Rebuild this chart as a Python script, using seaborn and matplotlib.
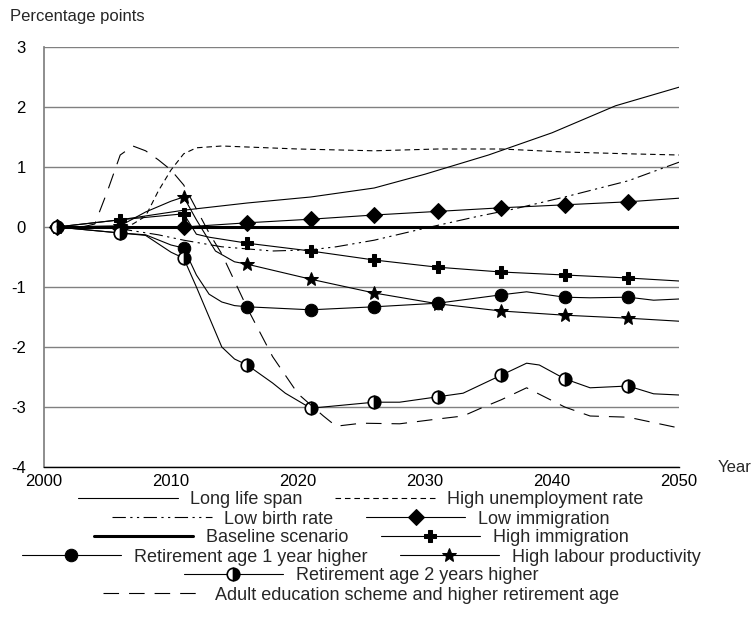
import matplotlib
matplotlib.use("Agg")
import matplotlib.pyplot as plt
import seaborn as sns

sns.set_theme(style="white")
plt.rcParams["font.family"] = ["Liberation Sans", "DejaVu Sans"]

# data (percentage points vs baseline)
marker_years = [2001, 2006, 2011, 2016, 2021, 2026, 2031, 2036, 2041, 2046]

long_years = [2001, 2006, 2011, 2016, 2021, 2026, 2030, 2035, 2040, 2045, 2050]
long_vals = [0.0, 0.12, 0.28, 0.4, 0.5, 0.65, 0.88, 1.2, 1.57, 2.02, 2.33]

unemp_years = [2001, 2006, 2007, 2008, 2009, 2010, 2011, 2012, 2014, 2020, 2026, 2031, 2036, 2041, 2046, 2050]
unemp_vals = [0.0, 0.0, 0.05, 0.18, 0.6, 0.95, 1.22, 1.32, 1.35, 1.3, 1.27, 1.3, 1.3, 1.25, 1.22, 1.2]

birth_years = [2001, 2006, 2009, 2011, 2014, 2018, 2021, 2023, 2026, 2030, 2034, 2037, 2041, 2046, 2050]
birth_vals = [0.0, -0.03, -0.13, -0.22, -0.33, -0.4, -0.38, -0.33, -0.22, -0.02, 0.17, 0.3, 0.5, 0.77, 1.08]

lowimm_years = [2001, 2006, 2011, 2016, 2021, 2026, 2031, 2036, 2041, 2046, 2050]
lowimm_vals = [0.0, -0.02, 0.0, 0.07, 0.13, 0.2, 0.26, 0.32, 0.37, 0.42, 0.48]

base_years = [2001, 2050]
base_vals = [0.0, 0.0]

highimm_years = [2001, 2006, 2011, 2012, 2013, 2016, 2021, 2026, 2031, 2036, 2041, 2046, 2050]
highimm_vals = [0.0, 0.12, 0.22, -0.12, -0.17, -0.27, -0.4, -0.55, -0.67, -0.75, -0.8, -0.85, -0.9]

ret1_years = [2001, 2006, 2008, 2010, 2011, 2012, 2013, 2014, 2015, 2016, 2021, 2026, 2031, 2036, 2038,
              2041, 2043, 2046, 2048, 2050]
ret1_vals = [0.0, -0.1, -0.13, -0.3, -0.35, -0.8, -1.12, -1.25, -1.31, -1.33, -1.38, -1.33, -1.27, -1.13,
             -1.08, -1.17, -1.18, -1.17, -1.22, -1.2]

prod_years = [2001, 2006, 2008, 2010, 2011, 2012, 2013.5, 2015, 2016, 2021, 2026, 2031, 2036, 2041, 2046, 2050]
prod_vals = [0.0, 0.02, 0.25, 0.43, 0.5, 0.12, -0.4, -0.58, -0.62, -0.87, -1.1, -1.28, -1.4, -1.47, -1.52, -1.57]

ret2_years = [2001, 2006, 2008, 2010, 2011, 2012, 2013, 2014, 2015, 2016, 2018, 2019, 2021, 2026, 2028,
              2031, 2033, 2036, 2038, 2039, 2041, 2043, 2046, 2048, 2050]
ret2_vals = [0.0, -0.1, -0.14, -0.42, -0.52, -1.0, -1.5, -2.0, -2.2, -2.3, -2.6, -2.77, -3.02, -2.92, -2.92,
             -2.83, -2.77, -2.47, -2.27, -2.3, -2.53, -2.68, -2.65, -2.78, -2.8]

adult_years = [2001, 2003, 2004, 2005, 2006, 2007, 2008, 2009, 2010, 2011, 2012, 2013, 2014, 2016, 2018,
               2020, 2022, 2023, 2025, 2028, 2031, 2033, 2034.4, 2036, 2038, 2041, 2043, 2046, 2050]
adult_vals = [0.0, 0.0, 0.05, 0.6, 1.2, 1.35, 1.27, 1.12, 0.95, 0.7, 0.3, -0.1, -0.45, -1.35, -2.16,
              -2.78, -3.15, -3.32, -3.27, -3.28, -3.2, -3.15, -3.02, -2.88, -2.68, -3.0, -3.15, -3.17, -3.35]

x_ticks = [2000, 2010, 2020, 2030, 2040, 2050]
y_ticks = [-4, -3, -2, -1, 0, 1, 2, 3]

fig = plt.figure(figsize=(7.52, 6.30), dpi=100)
ax = fig.add_axes([44 / 752, 1 - 467 / 630, 635 / 752, 420 / 630])


def every(years):
    return [i for i, y in enumerate(years) if y in marker_years]


def draw(years, vals, label, ls="-", lw=0.8, **kw):
    sns.lineplot(x=years, y=vals, ax=ax, color="black", linewidth=lw, linestyle=ls,
                 errorbar=None, sort=False, label=label, legend=False, **kw)
    return ax.lines[-1]


handles = []
handles.append(draw(long_years, long_vals, "Long life span"))
handles.append(draw(unemp_years, unemp_vals, "High unemployment rate", ls=(0, (5, 3.5))))
handles.append(draw(birth_years, birth_vals, "Low birth rate", ls=(0, (12, 4, 2, 4, 2, 4))))
handles.append(draw(lowimm_years, lowimm_vals, "Low immigration", marker="D", markersize=8,
                    markevery=every(lowimm_years), mfc="black", mec="black"))
handles.append(draw(base_years, base_vals, "Baseline scenario", lw=2.2))
handles.append(draw(highimm_years, highimm_vals, "High immigration", marker="P", markersize=9,
                    markevery=every(highimm_years), mfc="black", mec="black"))
handles.append(draw(ret1_years, ret1_vals, "Retirement age 1 year higher", marker="o", markersize=9,
                    markevery=every(ret1_years), mfc="black", mec="black"))
handles.append(draw(prod_years, prod_vals, "High labour productivity", marker="*", markersize=10,
                    markevery=every(prod_years), mfc="black", mec="black"))
handles.append(draw(ret2_years, ret2_vals, "Retirement age 2 years higher", marker="o", markersize=9,
                    markevery=every(ret2_years), fillstyle="right", mfc="black",
                    markerfacecoloralt="white", mec="black", mew=1.2))
handles.append(draw(adult_years, adult_vals, "Adult education scheme and higher retirement age",
                    ls=(0, (14, 9))))

ax.set_xlim(2000, 2050)
ax.set_ylim(-4, 3)
ax.set_xticks(x_ticks)
ax.set_xticklabels([str(t) for t in x_ticks], fontsize=12)
ax.set_yticks(y_ticks)
ax.set_yticklabels([str(t) for t in y_ticks], fontsize=12)
ax.tick_params(axis="x", length=0, pad=5, colors="black")
ax.tick_params(axis="y", length=8, width=1, color="#808080", direction="out", pad=5, labelcolor="black")
ax.yaxis.grid(True, color="#808080", linewidth=1)
ax.set_axisbelow(True)
for side in ["top", "right"]:
    ax.spines[side].set_visible(False)
ax.spines["left"].set_color("#808080")
ax.spines["bottom"].set_color("black")
ax.spines["bottom"].set_linewidth(1)
ax.set_xlabel("")
ax.set_ylabel("")

fig.text(10 / 752, 1 - 17 / 630, "Percentage points", fontsize=12, va="center", ha="left")
fig.text(718 / 752, 1 - 467 / 630, "Year", fontsize=12, va="center", ha="left")

rows = [handles[0:2], handles[2:4], handles[4:6], handles[6:8], handles[8:9], handles[9:10]]
row_y = [500, 519, 538, 557, 576, 595]
for hs, yy in zip(rows, row_y):
    fig.legend(handles=hs, labels=[h.get_label() for h in hs], loc="center",
               bbox_to_anchor=(361 / 752, 1 - yy / 630), ncol=len(hs), frameon=False,
               handlelength=5.5, numpoints=1, fontsize=13, columnspacing=1.8,
               handletextpad=0.7, borderpad=0, borderaxespad=0)

fig.savefig("out.png", dpi=100)
